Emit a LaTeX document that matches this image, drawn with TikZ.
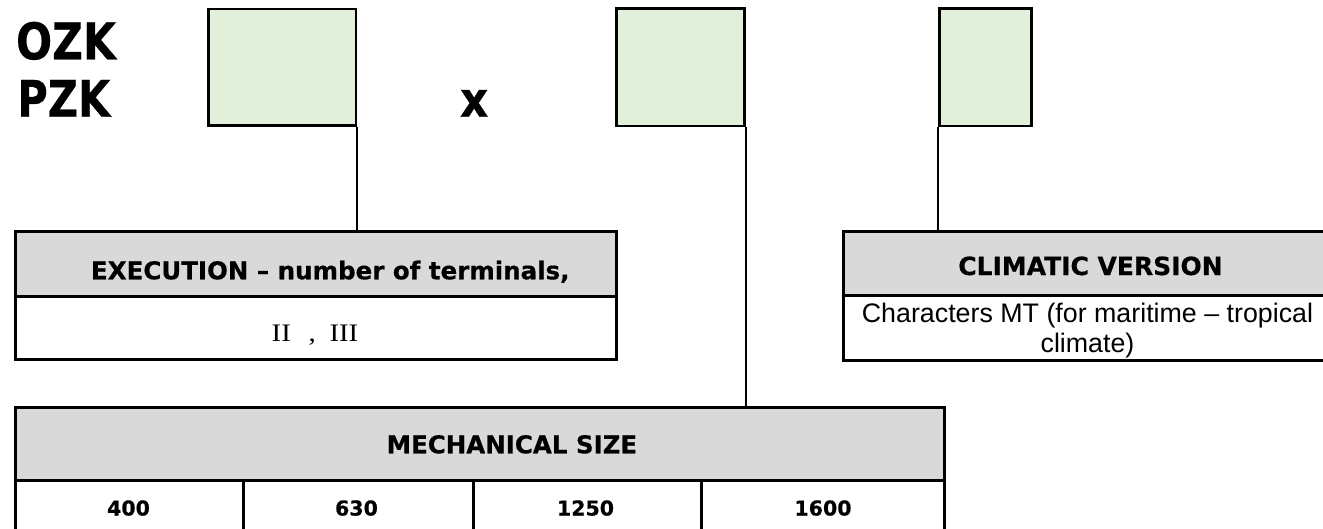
\documentclass[tikz,border=0pt]{standalone}
\usepackage{graphicx}
\usepackage{fontspec}
\setmainfont{DejaVu Sans}[BoldFeatures={FakeBold=0.5}]
\newfontfamily\arialf{Liberation Sans}
\newfontfamily\timesf{Liberation Serif}
\definecolor{boxgreen}{HTML}{E2EFDA}
\definecolor{hdrgray}{HTML}{D9D9D9}
\tikzset{
  gbox/.style={draw, line width=2.8pt, fill=boxgreen, inner sep=0pt},
  cell/.style={draw, line width=3pt, inner sep=0pt},
  hcell/.style={cell, fill=hdrgray},
  conn/.style={line width=1.9pt},
  lbl/.style={inner sep=0pt, outer sep=0pt},
  hdrfont/.style={font=\fontsize{24.5pt}{28pt}\selectfont\bfseries},
  numfont/.style={font=\fontsize{20.5pt}{24pt}\selectfont\bfseries}
}
\begin{document}
\begin{tikzpicture}[x=1pt,y=-1pt]
\useasboundingbox (0,0) rectangle (1323,528);
\clip (0,0) rectangle (1323,528);
\fill[white] (0,0) rectangle (1323,528);

% code letters
\node[lbl, anchor=base west] (ozk) at (16,59.3) {\resizebox{100pt}{37.5pt}{\bfseries OZK}};
\node[lbl, anchor=base west] (pzk) at (17.3,116.7) {\resizebox{93pt}{36.7pt}{\bfseries PZK}};
\node[lbl, anchor=base west] (times) at (460,116.7) {\resizebox{28.3pt}{26.7pt}{\bfseries x}};

% green boxes
\node[gbox, minimum width=147.5pt, minimum height=116.5pt] (b1) at (282.25,67.25) {};
\node[gbox, minimum width=128.4pt, minimum height=117.3pt] (b2) at (680.5,67.35) {};
\node[gbox, minimum width=91.5pt, minimum height=117.3pt] (b3) at (985.5,67.35) {};

% execution table
\node[hcell, minimum width=600.5pt, minimum height=64.3pt] (exh) at (315.75,263.85) {};
\node[cell, minimum width=600.5pt, minimum height=63.7pt] (exb) at (315.75,327.85) {};
\node[lbl, hdrfont, anchor=base west] (exht) at (91,279.3) {EXECUTION – number of terminals,};
\node[lbl, anchor=base west] (exbt) at (271.7,341) {\resizebox{86.6pt}{16.5pt}{\timesf\fontsize{22.7pt}{26pt}\selectfont II\hspace{14pt},\hspace{11pt}III}};

% climatic table
\node[hcell, minimum width=492pt, minimum height=64.5pt] (ch) at (1089,263.25) {};
\node[cell, minimum width=492pt, minimum height=64.5pt] (cb) at (1089,327.75) {};
\node[lbl, anchor=base east, font=\fontsize{25pt}{29pt}\selectfont\bfseries] (cht) at (1222.7,275) {CLIMATIC VERSION};
\node[lbl, anchor=base, align=center, font=\arialf\fontsize{26.8pt}{30.8pt}\selectfont] (cbt) at (1087.5,352.8) {Characters MT (for maritime – tropical\\climate)};

% mechanical size table
\node[hcell, minimum width=928.6pt, minimum height=73pt] (mh) at (480,444.2) {};
\node[cell, minimum width=227.8pt, minimum height=74.3pt] (m1) at (129.6,517.85) {};
\node[cell, minimum width=229.8pt, minimum height=74.3pt] (m2) at (358.4,517.85) {};
\node[cell, minimum width=228.4pt, minimum height=74.3pt] (m3) at (587.5,517.85) {};
\node[cell, minimum width=242.6pt, minimum height=74.3pt] (m4) at (823,517.85) {};
\node[lbl, hdrfont, anchor=base west] (mht) at (386.7,453.3) {MECHANICAL SIZE};
\node[lbl, numfont, anchor=base] (n1) at (128.5,515.5) {400};
\node[lbl, numfont, anchor=base] (n2) at (356.5,515.5) {630};
\node[lbl, numfont, anchor=base] (n3) at (585.5,515.5) {1250};
\node[lbl, numfont, anchor=base] (n4) at (823,515.5) {1600};

% connectors
\draw[conn] (b1.south east) -- (b1.south east |- exh.north);
\draw[conn] (b2.south east) -- (b2.south east |- mh.north);
\draw[conn] (b3.south west) -- (b3.south west |- ch.north);
\end{tikzpicture}
\end{document}
